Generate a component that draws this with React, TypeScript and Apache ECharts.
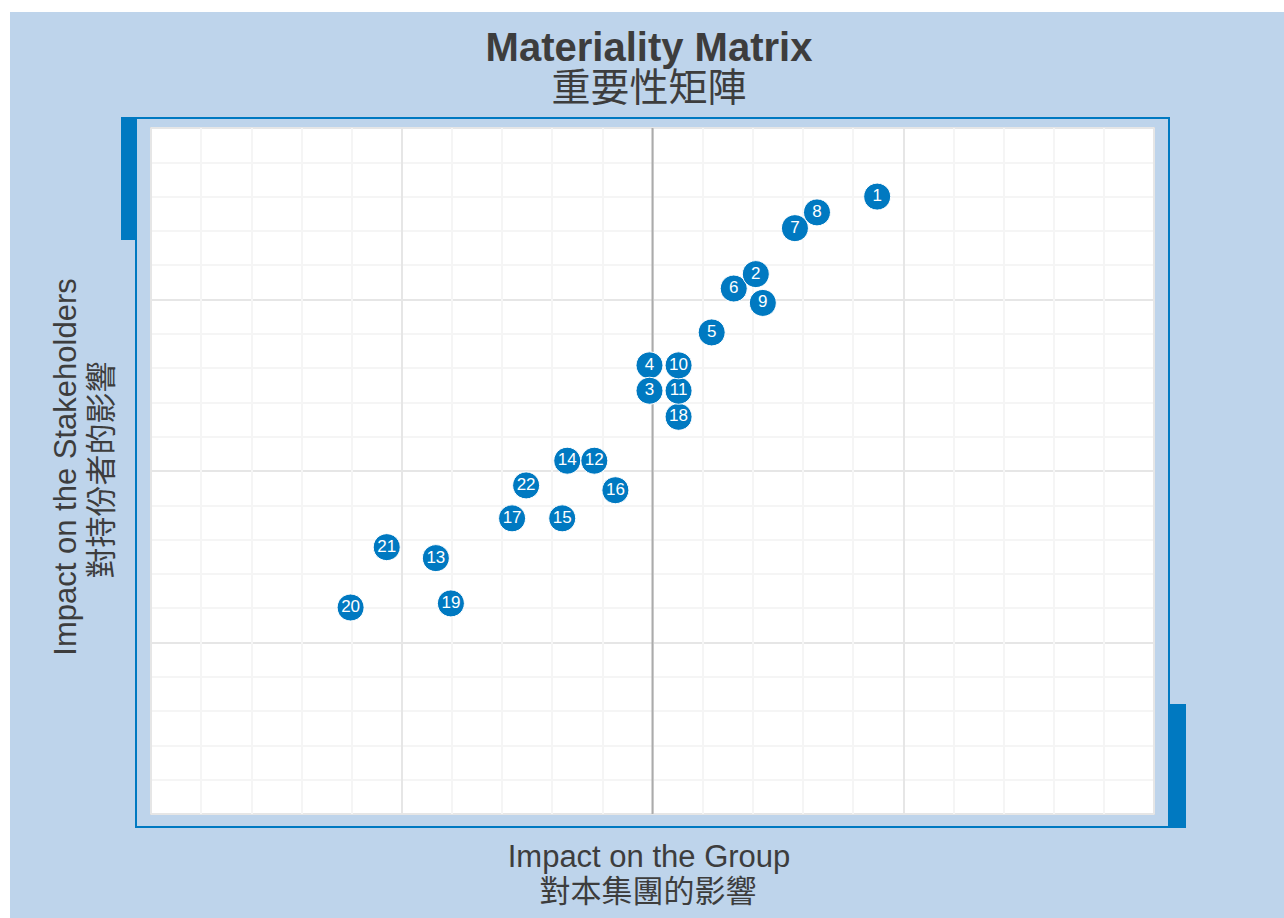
import React, { useEffect, useRef } from "react";
import * as echarts from "echarts";

const issueIds = ["1","2","3","4","5","6","7","8","9","10","11","12","13","14","15","16","17","18","19","20","21","22"];
const impactOnGroup = [7.24, 6.03, 4.97, 4.97, 5.59, 5.81, 6.42, 6.64, 6.10, 5.26, 5.26, 4.42, 2.84, 4.15, 4.10, 4.63, 3.60, 5.26, 2.99, 1.99, 2.35, 3.74];
const impactOnStakeholders = [9.00, 7.87, 6.17, 6.54, 7.02, 7.66, 8.54, 8.77, 7.45, 6.54, 6.17, 5.15, 3.73, 5.15, 4.31, 4.72, 4.31, 5.79, 3.07, 3.01, 3.89, 4.79];
const centreLine = [[5, 0], [5, 10]];

const titleEn = "Materiality Matrix";
const titleZh = "重要性矩陣";
const xNameEn = "Impact on the Group";
const xNameZh = "對本集團的影響";
const yNameEn = "Impact on the Stakeholders";
const yNameZh = "對持份者的影響";

const FONT = "'Liberation Sans', Arial, 'Noto Sans CJK TC', sans-serif";
const BLUE = "#0079c1";
const TXT = "#3d3d3d";

export default function App() {
  const ref = useRef<HTMLDivElement>(null);
  useEffect(() => {
    if (!ref.current) return;
    const chart = echarts.init(ref.current, undefined, { renderer: "svg" });
    const data = issueIds
      .map((id, i) => ({ name: id, value: [impactOnGroup[i], impactOnStakeholders[i]] }))
      .reverse();
    chart.setOption({
      animation: false,
      backgroundColor: "#bed4eb",
      grid: {
        left: 141, top: 116, width: 1003, height: 686,
        show: true, backgroundColor: "#ffffff", borderColor: "#dcdcdc", borderWidth: 2,
      },
      xAxis: {
        type: "value", min: 0, max: 10, interval: 2.5,
        axisLine: { show: false }, axisTick: { show: false }, axisLabel: { show: false },
        splitLine: { show: true, lineStyle: { color: "#e6e6e6", width: 2 } },
        minorTick: { show: false, splitNumber: 5 },
        minorSplitLine: { show: true, lineStyle: { color: "#f5f5f5", width: 2 } },
      },
      yAxis: {
        type: "value", min: 0, max: 10, interval: 2.5,
        axisLine: { show: false }, axisTick: { show: false }, axisLabel: { show: false },
        splitLine: { show: true, lineStyle: { color: "#e6e6e6", width: 2 } },
        minorTick: { show: false, splitNumber: 5 },
        minorSplitLine: { show: true, lineStyle: { color: "#f5f5f5", width: 2 } },
      },
      series: [
        {
          type: "line", data: centreLine, symbol: "none", silent: true, z: 1,
          lineStyle: { color: "#ababab", width: 2 },
        },
        {
          type: "scatter", data, symbolSize: 27, z: 3,
          itemStyle: { color: BLUE, borderColor: "#ffffff", borderWidth: 1, opacity: 1 },
          label: {
            show: true, position: "inside", formatter: "{b}",
            color: "#ffffff", fontSize: 17, fontFamily: FONT, offset: [0, -1],
          },
        },
      ],
      graphic: [
        { type: "rect", shape: { x: 126, y: 106, width: 1033, height: 709 }, style: { fill: "none", stroke: BLUE, lineWidth: 2 }, z: 10 },
        { type: "rect", shape: { x: 111, y: 105, width: 15, height: 123 }, style: { fill: BLUE }, z: 10 },
        { type: "rect", shape: { x: 1158, y: 692, width: 18, height: 124 }, style: { fill: BLUE }, z: 10 },
        { type: "text", x: 639, y: 35, style: { text: titleEn, fill: TXT, font: `bold 40px ${FONT}`, textAlign: "center", textVerticalAlign: "middle" }, z: 10 },
        { type: "text", x: 639, y: 75, style: { text: titleZh, fill: TXT, font: `39px ${FONT}`, textAlign: "center", textVerticalAlign: "middle" }, z: 10 },
        { type: "text", x: 639, y: 844, style: { text: xNameEn, fill: TXT, font: `31px ${FONT}`, textAlign: "center", textVerticalAlign: "middle" }, z: 10 },
        { type: "text", x: 638, y: 879, style: { text: xNameZh, fill: TXT, font: `31px ${FONT}`, textAlign: "center", textVerticalAlign: "middle" }, z: 10 },
        { type: "text", x: 55, y: 455, rotation: Math.PI / 2, style: { text: yNameEn, fill: TXT, font: `31px ${FONT}`, textAlign: "center", textVerticalAlign: "middle" }, z: 10 },
        { type: "text", x: 91, y: 458, rotation: Math.PI / 2, style: { text: yNameZh, fill: TXT, font: `31px ${FONT}`, textAlign: "center", textVerticalAlign: "middle" }, z: 10 },
      ],
    });
    return () => chart.dispose();
  }, []);
  return (
    <div
      ref={ref}
      style={{ position: "absolute", left: 10, top: 12, width: 1274, height: 906 }}
    />
  );
}
